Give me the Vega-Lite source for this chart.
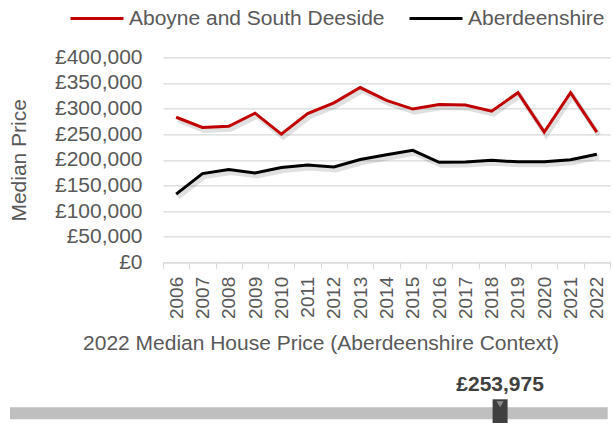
{
  "$schema": "https://vega.github.io/schema/vega-lite/v6.json",
  "padding": {"left": 8, "top": -9.7, "right": 0, "bottom": 0},
  "background": "white",
  "columns": 1,
  "align": "none",
  "bounds": "full",
  "spacing": 13,
  "config": {
    "font": "Liberation Sans",
    "view": {"stroke": null},
    "locale": {"number": {"decimal": ".", "thousands": ",", "grouping": [3], "currency": ["£", ""]}}
  },
  "concat": [
    {
      "width": 447,
      "height": 205,
      "data": {
        "values": [
          {"year": 2006, "area": "Aboyne and South Deeside", "price": 283000},
          {"year": 2007, "area": "Aboyne and South Deeside", "price": 263000},
          {"year": 2008, "area": "Aboyne and South Deeside", "price": 265500},
          {"year": 2009, "area": "Aboyne and South Deeside", "price": 291000},
          {"year": 2010, "area": "Aboyne and South Deeside", "price": 250000},
          {"year": 2011, "area": "Aboyne and South Deeside", "price": 290000},
          {"year": 2012, "area": "Aboyne and South Deeside", "price": 311000},
          {"year": 2013, "area": "Aboyne and South Deeside", "price": 341000},
          {"year": 2014, "area": "Aboyne and South Deeside", "price": 316000},
          {"year": 2015, "area": "Aboyne and South Deeside", "price": 299000},
          {"year": 2016, "area": "Aboyne and South Deeside", "price": 308000},
          {"year": 2017, "area": "Aboyne and South Deeside", "price": 307000},
          {"year": 2018, "area": "Aboyne and South Deeside", "price": 295000},
          {"year": 2019, "area": "Aboyne and South Deeside", "price": 331000},
          {"year": 2020, "area": "Aboyne and South Deeside", "price": 254000},
          {"year": 2021, "area": "Aboyne and South Deeside", "price": 331000},
          {"year": 2022, "area": "Aboyne and South Deeside", "price": 253975},
          {"year": 2006, "area": "Aberdeenshire", "price": 133000},
          {"year": 2007, "area": "Aberdeenshire", "price": 173000},
          {"year": 2008, "area": "Aberdeenshire", "price": 181000},
          {"year": 2009, "area": "Aberdeenshire", "price": 174500},
          {"year": 2010, "area": "Aberdeenshire", "price": 185000},
          {"year": 2011, "area": "Aberdeenshire", "price": 190000},
          {"year": 2012, "area": "Aberdeenshire", "price": 186000},
          {"year": 2013, "area": "Aberdeenshire", "price": 200500},
          {"year": 2014, "area": "Aberdeenshire", "price": 210000},
          {"year": 2015, "area": "Aberdeenshire", "price": 218500},
          {"year": 2016, "area": "Aberdeenshire", "price": 195000},
          {"year": 2017, "area": "Aberdeenshire", "price": 195500},
          {"year": 2018, "area": "Aberdeenshire", "price": 199000},
          {"year": 2019, "area": "Aberdeenshire", "price": 196000},
          {"year": 2020, "area": "Aberdeenshire", "price": 196000},
          {"year": 2021, "area": "Aberdeenshire", "price": 200000},
          {"year": 2022, "area": "Aberdeenshire", "price": 211000}
        ]
      },
      "encoding": {
        "x": {
          "field": "year",
          "type": "ordinal",
          "bandPosition": 0.5,
          "scale": {"type": "band", "paddingInner": 0, "paddingOuter": 0},
          "axis": {
            "title": null,
            "labelAngle": -90,
            "labelFontSize": 19,
            "labelColor": "#595959",
            "labelPadding": 8,
            "tickBand": "extent",
            "tickSize": 6,
            "tickColor": "#D9D9D9",
            "domainColor": "#D9D9D9",
            "grid": false
          }
        },
        "y": {
          "field": "price",
          "type": "quantitative",
          "scale": {"domain": [0, 400000]},
          "axis": {
            "title": "Median Price",
            "titleFontSize": 21,
            "titleFontWeight": "normal",
            "titleColor": "#595959",
            "titlePadding": 25,
            "values": [0, 50000, 100000, 150000, 200000, 250000, 300000, 350000, 400000],
            "format": "$,.0f",
            "labelFontSize": 21,
            "labelColor": "#595959",
            "labelPadding": 21,
            "ticks": false,
            "tickSize": 0,
            "domain": false,
            "gridColor": "#D9D9D9",
            "gridWidth": 1.2
          }
        }
      },
      "layer": [
        {
          "mark": {"type": "line", "color": "black", "opacity": 0.12, "strokeWidth": 5, "xOffset": 2, "yOffset": 3},
          "encoding": {"detail": {"field": "area"}}
        },
        {
          "mark": {"type": "line", "strokeWidth": 3},
          "encoding": {
            "color": {
              "field": "area",
              "type": "nominal",
              "scale": {"domain": ["Aboyne and South Deeside", "Aberdeenshire"], "range": ["#C00000", "#000000"]},
              "legend": {
                "title": null,
                "orient": "none",
                "direction": "horizontal",
                "legendX": -94,
                "legendY": -66.7,
                "padding": 0,
                "symbolType": "stroke",
                "symbolSize": 2809,
                "symbolStrokeWidth": 3,
                "labelFontSize": 21,
                "labelColor": "#595959",
                "labelOffset": 4,
                "columnPadding": 18,
                "labelLimit": 400
              }
            }
          }
        }
      ]
    },
    {
      "width": 449,
      "height": 12,
      "title": {
        "text": "2022 Median House Price (Aberdeenshire Context)",
        "fontSize": 21,
        "fontWeight": "normal",
        "color": "#595959",
        "anchor": "middle",
        "frame": "group",
        "dx": -66.5,
        "offset": 19.7
      },
      "layer": [
        {
          "data": {"values": [{"low": 140000, "high": 279000}]},
          "mark": {"type": "rect", "color": "#BFBFBF"},
          "encoding": {
            "x": {"field": "low", "type": "quantitative", "scale": {"domain": [140000, 279000], "range": [-153, 449]}, "axis": null},
            "x2": {"field": "high"}
          }
        },
        {
          "data": {"values": [{"value": 253975}]},
          "encoding": {"x": {"field": "value", "type": "quantitative"}},
          "layer": [
            {"mark": {"type": "tick", "orient": "vertical", "thickness": 15, "size": 28, "color": "#3F3F3F", "opacity": 1}},
            {"mark": {"type": "point", "shape": "triangle-down", "filled": true, "color": "#8C8C8C", "opacity": 1, "size": 50, "yOffset": -9}},
            {"mark": {"type": "text", "dy": -28.7, "baseline": "middle", "fontSize": 21, "fontWeight": "bold", "color": "#404040"},
             "encoding": {"text": {"field": "value", "type": "quantitative", "format": "$,.0f"}}}
          ]
        }
      ]
    }
  ]
}
